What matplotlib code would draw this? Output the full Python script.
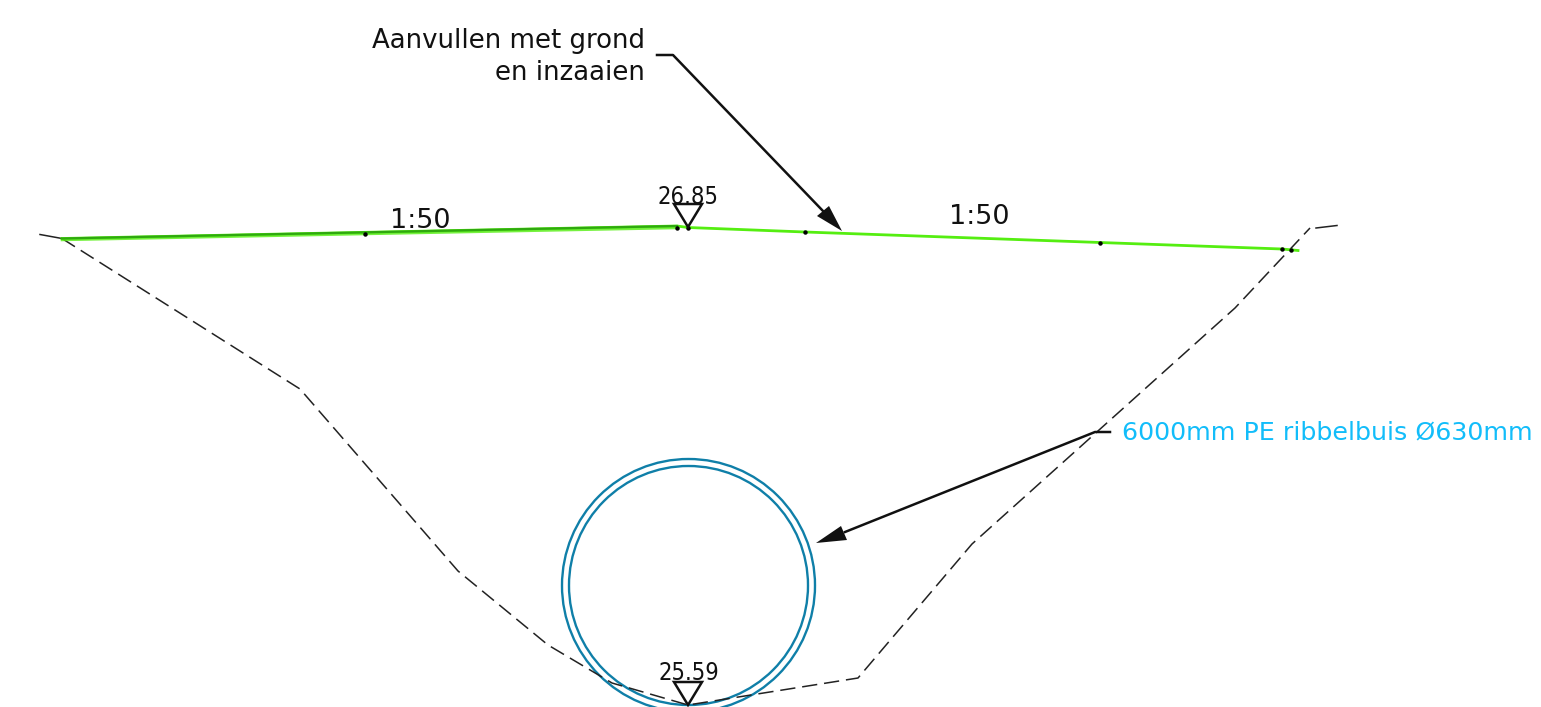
# -*- coding: utf-8 -*-
# Dwarsprofiel duiker: maaiveld, ontgraving en ribbelbuis
import matplotlib
matplotlib.use("Agg")
import matplotlib.pyplot as plt
from matplotlib.patches import Circle, Polygon

# maaiveld (groen)
maaiveld_x = [62, 677, 688, 805, 1100, 1282, 1298]
maaiveld_y = [238.5, 226, 227.5, 232, 242.5, 249, 250.5]
maaiveld_dubbel_x = [62, 365, 677]
maaiveld_dubbel_y = [240, 234, 228]
punten_x = [365, 677, 688, 805, 1100, 1282, 1291]
punten_y = [233.5, 227.5, 227.5, 232, 242.5, 249, 249.5]

# ontgraving (gestreept)
grond_x = [62, 300, 458, 548, 612, 688, 858, 972, 1235, 1310]
grond_y = [238.5, 389, 571, 645, 683, 705, 678, 544, 308, 228]
rand_links_x = [40, 62]
rand_links_y = [234.5, 238.5]
rand_rechts_x = [1316, 1337]
rand_rechts_y = [228, 225.5]

# buis
buis_x, buis_y = 688.5, 585.5
buis_r_buiten, buis_r_binnen = 126.5, 119.5

# peilen
peil_x = [688, 688]
peil_y = [227, 705]
peil_tekst = ["26.85", "25.59"]
peil_tekst_y = [203.5, 680]

helling_tekst = ["1:50", "1:50"]
helling_x = [420, 979]
helling_y = [221, 217]

GROEN = "#55ee11"
DONKERGROEN = "#2fa80f"
BLAUW = "#0f7fa8"
CYAAN = "#12bdfa"
ZWART = "#111111"

fig = plt.figure(figsize=(15.41, 7.07), dpi=100)
ax = fig.add_axes([0, 0, 1, 1])
ax.set_xlim(0, 1541)
ax.set_ylim(707, 0)
ax.axis("off")

# ontgraving
ax.plot(grond_x, grond_y, color="#222222", lw=1.1, dashes=(10, 4.5))
ax.plot(rand_links_x, rand_links_y, color="#222222", lw=1.1)
ax.plot(rand_rechts_x, rand_rechts_y, color="#222222", lw=1.1)

# maaiveld
ax.plot(maaiveld_dubbel_x, maaiveld_dubbel_y, color=GROEN, lw=1.8, alpha=0.8)
ax.plot(maaiveld_x, maaiveld_y, color=GROEN, lw=2.0, zorder=3)
ax.plot(maaiveld_x[:2], maaiveld_y[:2], color=DONKERGROEN, lw=1.6, zorder=3)
ax.plot(punten_x, punten_y, ls="none", marker="o", ms=2.2, color="black", zorder=4)

# buis
for r in (buis_r_buiten, buis_r_binnen):
    ax.add_patch(Circle((buis_x, buis_y), r, fill=False, ec=BLAUW, lw=1.7))

# peilen met driehoek
for x, y, t, ty in zip(peil_x, peil_y, peil_tekst, peil_tekst_y):
    ax.add_patch(Polygon([(x, y), (x - 14, y - 23), (x + 14, y - 23)], closed=True,
                         fill=False, ec=ZWART, lw=1.8, zorder=5))
    ax.text(x + 0.5, ty, t, family="DejaVu Sans", stretch="condensed", fontsize=17,
            color=ZWART, ha="center", va="baseline", zorder=5)

for x, y, t in zip(helling_x, helling_y, helling_tekst):
    ax.text(x, y, t, fontsize=19.5, color=ZWART, ha="center", va="center")

# verwijzing grond
ax.text(645, 41, "Aanvullen met grond", fontsize=18.7, color=ZWART, ha="right", va="center")
ax.text(645, 73, "en inzaaien", fontsize=18.7, color=ZWART, ha="right", va="center")
ax.plot([657, 673, 823], [55, 55, 211], color=ZWART, lw=1.8)
ax.add_patch(Polygon([(842, 231), (817, 216), (829, 206)], closed=True, color=ZWART, lw=0))

# verwijzing buis
ax.text(1122, 433, "6000mm PE ribbelbuis Ø630mm", fontsize=18.3, color=CYAAN, ha="left", va="center")
ax.plot([1110, 1095, 845], [432, 432, 532], color=ZWART, lw=1.8)
ax.add_patch(Polygon([(816, 543), (841, 526), (847, 540)], closed=True, color=ZWART, lw=0))

fig.savefig("out.png", dpi=100)
